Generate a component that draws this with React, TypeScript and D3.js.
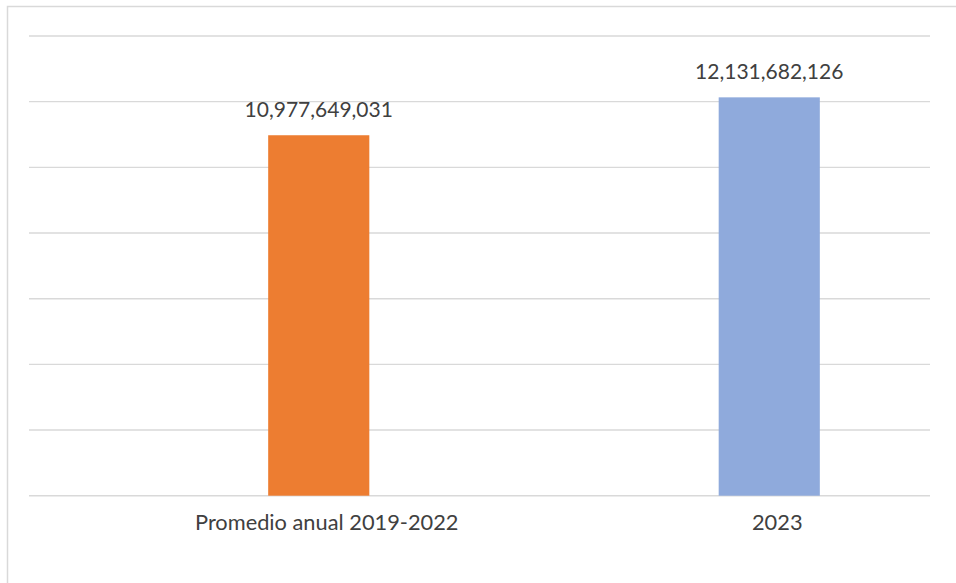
import React from "react";
import * as d3 from "d3";

const categories = ["Promedio anual 2019-2022", "2023"];
const values = [10977649031, 12131682126];
const colors = ["#ED7D31", "#8FAADC"];
const yTicks = [0, 2e9, 4e9, 6e9, 8e9, 10e9, 12e9, 14e9];

const W = 956;
const H = 583;

export default function App() {
  const y = d3.scaleLinear().domain([0, 14e9]).range([495.7, 36]);
  const x = d3.scaleBand<string>().domain(categories).range([93.5, 994.5]).paddingInner(0).paddingOuter(0);
  const barW = x.bandwidth() * 0.2245;
  const gridX0 = 29;
  const gridX1 = 930;
  const fmt = d3.format(",");
  const font = "Lato, 'Open Sans', sans-serif";
  return (
    <svg width={W} height={H} style={{ position: "fixed", left: 0, top: 0, background: "#fff" }}>
      <rect x={7.5} y={6.5} width={2000} height={2000} fill="#fff" stroke="#d9d9d9" strokeWidth={1.5} />
      {yTicks.map((t) => (
        <line key={t} x1={gridX0} x2={gridX1} y1={y(t)} y2={y(t)} stroke="#d9d9d9" strokeWidth={1.4} />
      ))}
      {categories.map((c, i) => {
        const cx = (x(c) as number) + x.bandwidth() / 2;
        return (
          <g key={c}>
            <rect x={cx - barW / 2} y={y(values[i])} width={barW} height={y(0) - y(values[i])} fill={colors[i]} />
            <text x={cx} y={y(values[i]) - 18} textAnchor="middle" fontFamily={font} fontSize={21} fill="#404040">
              {fmt(values[i])}
            </text>
            <text x={cx + 8} y={530} textAnchor="middle" fontFamily={font} fontSize={21.8} fill="#404040">
              {c}
            </text>
          </g>
        );
      })}
    </svg>
  );
}
